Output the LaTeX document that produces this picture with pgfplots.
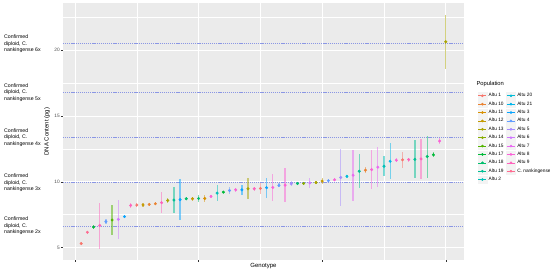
\documentclass[border=0pt]{standalone}
\usepackage{fontspec}
\setmainfont{Liberation Sans}
\usepackage{pgfplots}
\pgfplotsset{compat=1.18}

% ggplot hue palette, 21 populations
\definecolor{c1}{HTML}{F8766D}
\definecolor{c2}{HTML}{EA8331}
\definecolor{c3}{HTML}{D89000}
\definecolor{c4}{HTML}{C49A00}
\definecolor{c5}{HTML}{A9A400}
\definecolor{c6}{HTML}{86AC00}
\definecolor{c7}{HTML}{53B400}
\definecolor{c8}{HTML}{00BA38}
\definecolor{c9}{HTML}{00BE6C}
\definecolor{c10}{HTML}{00C094}
\definecolor{c11}{HTML}{00C0B8}
\definecolor{c12}{HTML}{00BCD8}
\definecolor{c13}{HTML}{00B6EB}
\definecolor{c14}{HTML}{06A4FF}
\definecolor{c15}{HTML}{619CFF}
\definecolor{c16}{HTML}{A58AFF}
\definecolor{c17}{HTML}{D078FF}
\definecolor{c18}{HTML}{E96AF1}
\definecolor{c19}{HTML}{FB61D7}
\definecolor{c20}{HTML}{FF62BC}
\definecolor{c21}{HTML}{FF6C91}
\definecolor{panel}{RGB}{235,235,235}
\definecolor{refline}{RGB}{138,150,228}
\definecolor{tickgray}{RGB}{77,77,77}

\begin{document}
\begin{tikzpicture}
\useasboundingbox (0,0) rectangle (550pt,271pt);
\begin{axis}[
  at={(63pt,11pt)}, anchor=south west,
  scale only axis, width=401pt, height=257pt,
  xmin=-1.95, xmax=62.95, ymin=4.05, ymax=23.6,
  axis background/.style={fill=panel},
  axis line style={draw=none},
  tick pos=left, tick align=outside,
  major tick length=2pt, minor tick length=0pt,
  tick style={black!80, line width=0.4pt},
  xtick={0,20,40,60}, minor xtick={10,30,50}, xticklabels={},
  ytick={5,10,15,20}, minor ytick={7.5,12.5,17.5,22.5},
  grid=both,
  major grid style={white, line width=0.8pt},
  minor grid style={white, line width=0.4pt},
  /pgf/number format/assume math mode=true,
  yticklabel style={font=\fontsize{4.8}{5}\selectfont, text=tickgray, inner sep=1pt},
  xlabel={Genotype}, ylabel={DNA Content (pg)},
  xlabel style={at={(axis description cs:0.5,-0.023)}, anchor=center, font=\fontsize{6}{7}\selectfont},
  ylabel style={at={(axis description cs:-0.04,0.5)}, anchor=center, font=\fontsize{6}{7}\selectfont},
  clip=false,
  legend columns=2,
  legend cell align=left,
  legend image code/.code={
    \fill[panel!60] (-0.5pt,-3.6pt) rectangle (8.5pt,3.6pt);
    \draw[mark repeat=2, mark phase=2, #1] plot coordinates {(0pt,0pt) (4pt,0pt) (8pt,0pt)};},
  legend style={at={(rel axis cs:1.026,0.665)}, anchor=north west, draw=none, fill=none,
    font=\fontsize{4.8}{5}\selectfont, row sep=-0.6pt,
    nodes={inner xsep=1.5pt},
    /tikz/every even column/.append style={column sep=1pt}},
  pr/.style={forget plot, only marks, mark=*, mark size=1.3pt,
    error bars/.cd, y dir=both, y explicit, error mark=none,
    error bar style={line width=1.3pt, opacity=0.5}},
  li/.style={line width=0.6pt, mark=*, mark size=1pt},
]
% reference lines for confirmed ploidy levels
\addplot[refline, line width=0.6pt, dash pattern=on 1.2pt off 0.9pt, forget plot] coordinates {(-1.95,20.5) (62.95,20.5)};
\addplot[refline, line width=0.6pt, dash pattern=on 1.2pt off 0.9pt, forget plot] coordinates {(-1.95,16.8) (62.95,16.8)};
\addplot[refline, line width=0.6pt, dash pattern=on 1.2pt off 0.9pt, forget plot] coordinates {(-1.95,13.36) (62.95,13.36)};
\addplot[refline, line width=0.6pt, dash pattern=on 1.2pt off 0.9pt, forget plot] coordinates {(-1.95,9.93) (62.95,9.93)};
\addplot[refline, line width=0.6pt, dash pattern=on 1.2pt off 0.9pt, forget plot] coordinates {(-1.95,6.63) (62.95,6.63)};

% genotypes, one series per population
\addplot[c1, pr] coordinates {(1,5.30) +- (0,0.12) (10,8.23) +- (0,0.12) (30,9.49) +- (0,0.40) (53,11.67) +- (0,0.62)};
\addplot[c2, pr] coordinates {(12,8.28) +- (0,0.10) (13,8.33) +- (0,0.10) (47,10.88) +- (0,0.22)};
\addplot[c3, pr] coordinates {(21,8.73) +- (0,0.30)};
\addplot[c4, pr] coordinates {(11,8.24) +- (0,0.15) (19,8.71) +- (0,0.15) (40,10.05) +- (0,0.25)};
\addplot[c5, pr] coordinates {(15,8.58) +- (0,0.20) (28,9.47) +- (0,0.78) (39,9.95) +- (0,0.12) (60,20.65) +- (0,2.07)};
\addplot[c6, pr] coordinates {(37,9.87) +- (0,0.15)};
\addplot[c7, pr] coordinates {(6,7.09) +- (0,1.17)};
\addplot[c8, pr] coordinates {(3,6.56) +- (0,0.15) (24,9.21) +- (0,0.10) (58,12.05) +- (0,0.20)};
\addplot[c9, pr] coordinates {(18,8.71) +- (0,0.12) (20,8.73) +- (0,0.30) (36,9.87) +- (0,0.15) (57,11.92) +- (0,1.60)};
\addplot[c10, pr] coordinates {(16,8.61) +- (0,1.00) (46,10.80) +- (0,1.30) (55,11.71) +- (0,1.44)};
\addplot[c11, pr] coordinates {(23,9.14) +- (0,0.60) (50,11.18) +- (0,0.75)};
\addplot[c12, pr] coordinates {(44,10.42) +- (0,0.10)};
\addplot[c13, pr] coordinates {(51,11.56) +- (0,1.38)};
\addplot[c14, pr] coordinates {(8,7.35) +- (0,0.12) (17,8.64) +- (0,1.58) (27,9.39) +- (0,0.38) (31,9.55) +- (0,0.76)};
\addplot[c15, pr] coordinates {(5,6.97) +- (0,0.20) (25,9.34) +- (0,0.30) (33,9.72) +- (0,0.15) (41,10.08) +- (0,0.10)};
\addplot[c16, pr] coordinates {(35,9.85) +- (0,0.20) (43,10.33) +- (0,2.15)};
\addplot[c17, pr] coordinates {(7,7.14) +- (0,1.50) (38,9.92) +- (0,0.40)};
\addplot[c18, pr] coordinates {(45,10.50) +- (0,1.93) (49,11.11) +- (0,1.52)};
\addplot[c19, pr] coordinates {(22,8.89) +- (0,0.12) (26,9.39) +- (0,0.15) (32,9.57) +- (0,1.00) (34,9.74) +- (0,1.29) (42,10.15) +- (0,0.10) (48,10.93) +- (0,1.50) (52,11.64) +- (0,0.15) (59,13.10) +- (0,0.20)};
\addplot[c20, pr] coordinates {(4,6.67) +- (0,1.75) (9,8.20) +- (0,0.20) (14,8.41) +- (0,0.78) (29,9.47) +- (0,0.15) (54,11.69) +- (0,0.15) (56,11.74) +- (0,1.50)};
\addplot[c21, pr] coordinates {(2,6.16) +- (0,0.10)};

% legend, filled row by row so the columns read like ggplot's
\addlegendimage{c1, li}\addlegendentry{Altu 1}
\addlegendimage{c12, li}\addlegendentry{Altu 20}
\addlegendimage{c2, li}\addlegendentry{Altu 10}
\addlegendimage{c13, li}\addlegendentry{Altu 21}
\addlegendimage{c3, li}\addlegendentry{Altu 11}
\addlegendimage{c14, li}\addlegendentry{Altu 3}
\addlegendimage{c4, li}\addlegendentry{Altu 12}
\addlegendimage{c15, li}\addlegendentry{Altu 4}
\addlegendimage{c5, li}\addlegendentry{Altu 13}
\addlegendimage{c16, li}\addlegendentry{Altu 5}
\addlegendimage{c6, li}\addlegendentry{Altu 14}
\addlegendimage{c17, li}\addlegendentry{Altu 6}
\addlegendimage{c7, li}\addlegendentry{Altu 15}
\addlegendimage{c18, li}\addlegendentry{Altu 7}
\addlegendimage{c8, li}\addlegendentry{Altu 17}
\addlegendimage{c19, li}\addlegendentry{Altu 8}
\addlegendimage{c9, li}\addlegendentry{Altu 18}
\addlegendimage{c20, li}\addlegendentry{Altu 9}
\addlegendimage{c10, li}\addlegendentry{Altu 19}
\addlegendimage{c21, li}\addlegendentry{C. nankingense}
\addlegendimage{c11, li}\addlegendentry{Altu 2}

\node[anchor=west, font=\fontsize{5.8}{7}\selectfont] at (rel axis cs:1.0224,0.685) {Population};

% ploidy labels left of the panel
\tikzset{anno/.style={anchor=west, align=left, inner sep=0pt, font=\fontsize{5.2}{6.5}\selectfont}}
\node[anno] at (axis cs:-11.5,20.5) {Confirmed\\diploid, C.\\nankingense 6x};
\node[anno] at (axis cs:-11.5,16.8) {Confirmed\\diploid, C.\\nankingense 5x};
\node[anno] at (axis cs:-11.5,13.36) {Confirmed\\diploid, C.\\nankingense 4x};
\node[anno] at (axis cs:-11.5,9.93) {Confirmed\\diploid, C.\\nankingense 3x};
\node[anno] at (axis cs:-11.5,6.63) {Confirmed\\diploid, C.\\nankingense 2x};
\end{axis}
\end{tikzpicture}
\end{document}
